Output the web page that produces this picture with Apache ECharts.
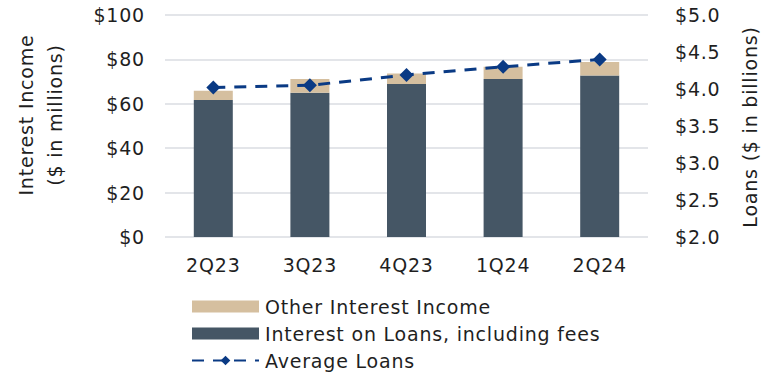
<!DOCTYPE html>
<html>
<head>
<meta charset="utf-8">
<script src="https://cdn.jsdelivr.net/npm/echarts@6/dist/echarts.min.js"></script>
<style>
  html, body { margin: 0; padding: 0; background: #fff; }
  #chart { width: 779px; height: 375px; }
  /* slightly wider tracking for all chart text */
  #chart text { letter-spacing: 0.8px; }
</style>
</head>
<body>
<div id="chart"></div>
<script>
// Quarterly interest income ($M) and average loans ($B)
const quarters = ['2Q23', '3Q23', '4Q23', '1Q24', '2Q24'];
const loanInterest = [61.7, 65.0, 68.9, 71.2, 72.7];
const otherInterest = [4.2, 6.2, 4.8, 5.5, 6.1];
const averageLoans = [4.02, 4.05, 4.19, 4.30, 4.40];
const leftTicks = [0, 20, 40, 60, 80, 100];
const rightTicks = [2.0, 2.5, 3.0, 3.5, 4.0, 4.5, 5.0];

const FONT = 'DejaVu Sans';
const SIZE = 19;
const TEXT = '#1f1f1f';

const chart = echarts.init(document.getElementById('chart'), null, { renderer: 'svg' });

chart.setOption({
  animation: false,
  textStyle: { fontFamily: FONT, color: TEXT },
  grid: { left: 165, right: 131, top: 15, bottom: 138, containLabel: false },
  legend: {
    orient: 'vertical',
    left: 186,
    top: 288,
    height: 90,
    itemWidth: 67,
    itemHeight: 12,
    itemGap: 0,
    textStyle: { fontFamily: FONT, fontSize: SIZE, color: TEXT, lineHeight: 27, padding: [0, 0, 0, 1] },
    data: [
      { name: 'Other Interest Income', icon: 'rect' },
      { name: 'Interest on Loans, including fees', icon: 'rect' },
      { name: 'Average Loans' }
    ]
  },
  xAxis: {
    type: 'category',
    data: quarters,
    axisLine: { show: false },
    axisTick: { show: false },
    axisLabel: { fontFamily: FONT, fontSize: SIZE, color: TEXT, margin: 18 }
  },
  yAxis: [
    {
      type: 'value',
      min: leftTicks[0],
      max: leftTicks[leftTicks.length - 1],
      interval: leftTicks[1] - leftTicks[0],
      axisLine: { show: false },
      axisTick: { show: false },
      splitLine: { lineStyle: { color: '#dadde2', width: 1.5 } },
      axisLabel: {
        fontFamily: FONT, fontSize: SIZE, color: TEXT, margin: 20,
        formatter: v => '$' + v
      }
    },
    {
      type: 'value',
      min: rightTicks[0],
      max: rightTicks[rightTicks.length - 1],
      interval: 0.5,
      axisLine: { show: false },
      axisTick: { show: false },
      splitLine: { show: false },
      axisLabel: {
        fontFamily: FONT, fontSize: SIZE, color: TEXT, margin: 27,
        formatter: v => '$' + v.toFixed(1)
      }
    }
  ],
  graphic: [
    {
      type: 'text',
      x: 40, y: 115,
      rotation: Math.PI / 2,
      style: {
        text: 'Interest Income\n($ in millions)',
        font: SIZE + 'px ' + FONT,
        fill: TEXT,
        align: 'center',
        verticalAlign: 'middle',
        lineHeight: 29
      }
    },
    {
      type: 'text',
      x: 750, y: 127,
      rotation: Math.PI / 2,
      style: {
        text: 'Loans ($ in billions)',
        font: SIZE + 'px ' + FONT,
        fill: TEXT,
        align: 'center',
        verticalAlign: 'middle'
      }
    }
  ],
  series: [
    {
      name: 'Interest on Loans, including fees',
      type: 'bar',
      stack: 'income',
      barWidth: 39,
      itemStyle: { color: '#455665' },
      data: loanInterest
    },
    {
      name: 'Other Interest Income',
      type: 'bar',
      stack: 'income',
      barWidth: 39,
      itemStyle: { color: '#d5bf9f' },
      data: otherInterest
    },
    {
      name: 'Average Loans',
      type: 'line',
      yAxisIndex: 1,
      symbol: 'diamond',
      symbolSize: 14,
      itemStyle: { color: '#0a3a84' },
      lineStyle: { color: '#0a3a84', width: 3, type: [12, 9] },
      data: averageLoans
    }
  ]
});
</script>
</body>
</html>
